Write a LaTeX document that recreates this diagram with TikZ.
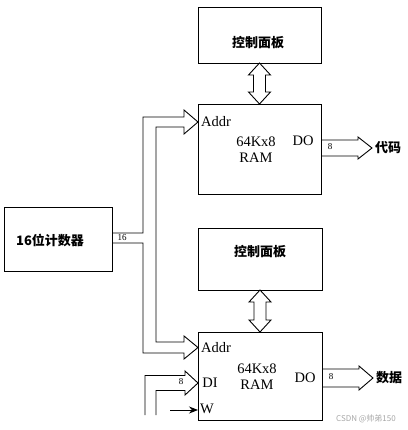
\documentclass[tikz,border=0pt]{standalone}
\usepackage{fontspec}
\setmainfont{Liberation Serif}
\newfontfamily\cjk{Noto Sans CJK SC}
\usetikzlibrary{calc,arrows.meta}
\begin{document}
\begin{tikzpicture}[x=1pt,y=-1pt,
  ln/.style={line width=0.9pt,line join=miter},
  box/.style={draw,line width=0.9pt,inner sep=0pt,outer sep=0pt},
  zh/.style={font=\cjk\bfseries\fontsize{13}{13}\selectfont,inner sep=0pt},
  en/.style={font=\fontsize{14.5}{16}\selectfont,inner sep=0pt,align=center},
  sm/.style={font=\fontsize{9}{9}\selectfont,inner sep=0pt},
  wm/.style={font=\cjk\fontsize{8}{8}\selectfont,text=black!35,inner sep=0pt}]
\useasboundingbox (0,0) rectangle (407,430);
% boxes
\node[box,minimum width=123pt,minimum height=56pt] (p1) at (259.5,35) {};
\node[box,minimum width=123pt,minimum height=90pt] (r1) at (259.5,149) {};
\node[box,minimum width=124pt,minimum height=62pt] (p2) at (260,259) {};
\node[box,minimum width=124pt,minimum height=88pt] (r2) at (260,376) {};
\node[box,minimum width=108pt,minimum height=64pt] (c) at (58,239) {};
% texts
\node[zh] (p1t) at (258,43) {控制面板};
\node[zh] (p2t) at (260,252) {控制面板};
\node[zh] (ct) at (50,240) {16位计数器};
\node[en] (r1t) at (256,150) {64Kx8\\RAM};
\node[en] (r2t) at (257,377) {64Kx8\\RAM};
\node[en,anchor=west] (r1a) at (201,122) {Addr};
\node[en,anchor=west] (r2a) at (201,348) {Addr};
\node[en] (r1o) at (303,141) {DO};
\node[en] (r2o) at (305,378) {DO};
\node[en] (r2d) at (210,383) {DI};
\node[en] (r2w) at (207,409) {W};
% double arrows
\draw[ln] (p1.south) -- ++(11,12) -- ++(-5,0) -- ($(r1.north)+(6,-12)$) -- ++(5,0) -- (r1.north)
  -- ++(-11,-12) -- ++(5,0) -- ($(p1.south)+(-6,12)$) -- ++(-5,0) -- cycle;
\draw[ln] (p2.south) -- ++(11,12) -- ++(-5,0) -- ($(r2.north)+(6,-12)$) -- ++(5,0) -- (r2.north)
  -- ++(-11,-12) -- ++(5,0) -- ($(p2.south)+(-6,12)$) -- ++(-5,0) -- cycle;
% address bus
\coordinate (ca) at ($(c.east)+(0,-6)$);
\coordinate (cb) at ($(c.east)+(0,4)$);
\coordinate (a1) at ($(r1.west)+(0,-27)$);
\coordinate (a2) at ($(r2.west)+(0,-28.5)$);
\draw[ln] (ca) -| (143,117) -- (184,117) -- (184,110) -- (a1) -- (184,134) -- (184,127)
  -- (156,127) -- (156,342) -- (184,342) -- (184,336) -- (a2) -- (184,359) -- (184,353)
  -- (143,353) |- (cb);
\node[sm] (l16) at (122,237.5) {16};
% DI bus
\coordinate (dia) at (145,415);
\coordinate (dib) at (156,415);
\coordinate (di) at ($(r2.west)+(0,7)$);
\draw[ln] (dia) |- (185,375.5) -- (185,371) -- (di) -- (185,395) -- (185,390.5) -| (dib);
\node[sm] (l8c) at (181,382) {8};
% W
\coordinate (wst) at (170,410);
\coordinate (wend) at ($(r2.west)+(0,34)$);
\draw[ln,-{Stealth[length=9pt,width=7pt]}] (wst) -- (wend);
% outputs
\draw[ln] ($(r1.east)+(0,-9)$) -- ++(37,0) -- ++(0,-3) -- ++(14,11) -- ++(-14,11) -- ++(0,-3)
  -- ($(r1.east)+(0,7)$);
\node[sm] (l8a) at (330,147) {8};
\node[zh,anchor=west] (code) at (375,148) {代码};
\draw[ln] ($(r2.east)+(0,-7)$) -- ++(37,0) -- ++(0,-3) -- ++(14,12) -- ++(-14,12) -- ++(0,-3)
  -- ($(r2.east)+(0,11)$);
\node[sm] (l8b) at (331,377) {8};
\node[zh,anchor=west] (data) at (376,378) {数据};
% watermark
\node[wm] (wmk) at (366,419) {CSDN @帅弟150};
\end{tikzpicture}
\end{document}
